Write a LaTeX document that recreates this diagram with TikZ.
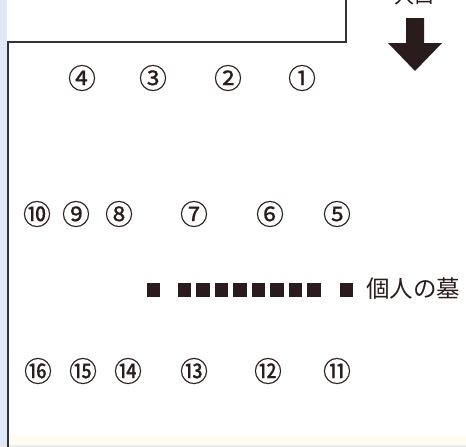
\documentclass[tikz,border=0pt]{standalone}
\usepackage{fontspec}
\newfontfamily\cjk{Noto Sans CJK JP}
\newfontfamily\cjknum[FakeBold=0.5]{Noto Sans CJK JP}
\definecolor{strip}{HTML}{DDE9F6}
\definecolor{wall}{HTML}{333333}
\definecolor{ink}{HTML}{2A1C1C}
\definecolor{beige}{HTML}{FFFDF2}
\tikzset{
  num/.style={font=\cjknum\fontsize{28}{28}\selectfont, text=ink, inner sep=0pt},
  grave/.style={fill=ink, minimum size=13.5pt, inner sep=0pt, draw=none},
  wallline/.style={draw=wall, line width=2pt}
}
\begin{document}
\begin{tikzpicture}[x=1pt,y=-1pt]
\useasboundingbox (0,0) rectangle (466,447);
\clip (0,0) rectangle (466,447);
\fill[white] (0,0) rectangle (466,447);
\fill[strip] (0,0) rectangle (7,447);
\fill[beige] (9,434) rectangle (466,445);
\fill[black!8] (0,445) rectangle (466,447);
% walls
\coordinate (tr) at (346,-2);
\coordinate (br) at (346,42);
\coordinate (bl) at (8,42);
\coordinate (bot) at (8,449);
\draw[wallline] (tr) -- (br) -- (bl) -- (bot);
% entrance
\node[font=\cjk\fontsize{20}{20}\selectfont, text=ink, anchor=base] (entr) at (414,3) {入口};
\fill[ink] (406,18) -- (424,18) -- (424,43) -- (442,43) -- (415,71) -- (388,43) -- (406,43) -- cycle;
% row 1
\node[num] (n4) at (82,78) {④};
\node[num] (n3) at (153,78) {③};
\node[num] (n2) at (228,78) {②};
\node[num] (n1) at (302,78) {①};
% row 2
\node[num] (n10) at (37,214) {⑩};
\node[num] (n9) at (76,214) {⑨};
\node[num] (n8) at (119,214) {⑧};
\node[num] (n7) at (194,214) {⑦};
\node[num] (n6) at (270,214) {⑥};
\node[num] (n5) at (337,214) {⑤};
% graves
\node[grave] (g0) at (153.5,290) {};
\foreach \i in {1,...,8} {
  \node[grave] (g\i) at ({184.5+(\i-1)*18.5},290) {};
}
\node[grave] (g9) at (346.5,290) {};
\node[font=\cjk\fontsize{23.5}{23.5}\selectfont, text=ink, anchor=west, inner sep=0pt] (lbl) at (366,289) {個人の墓};
% row 3
\node[num] (n16) at (38,371) {⑯};
\node[num] (n15) at (83,371) {⑮};
\node[num] (n14) at (128,371) {⑭};
\node[num] (n13) at (194,371) {⑬};
\node[num] (n12) at (268,371) {⑫};
\node[num] (n11) at (337,371) {⑪};
\end{tikzpicture}
\end{document}
